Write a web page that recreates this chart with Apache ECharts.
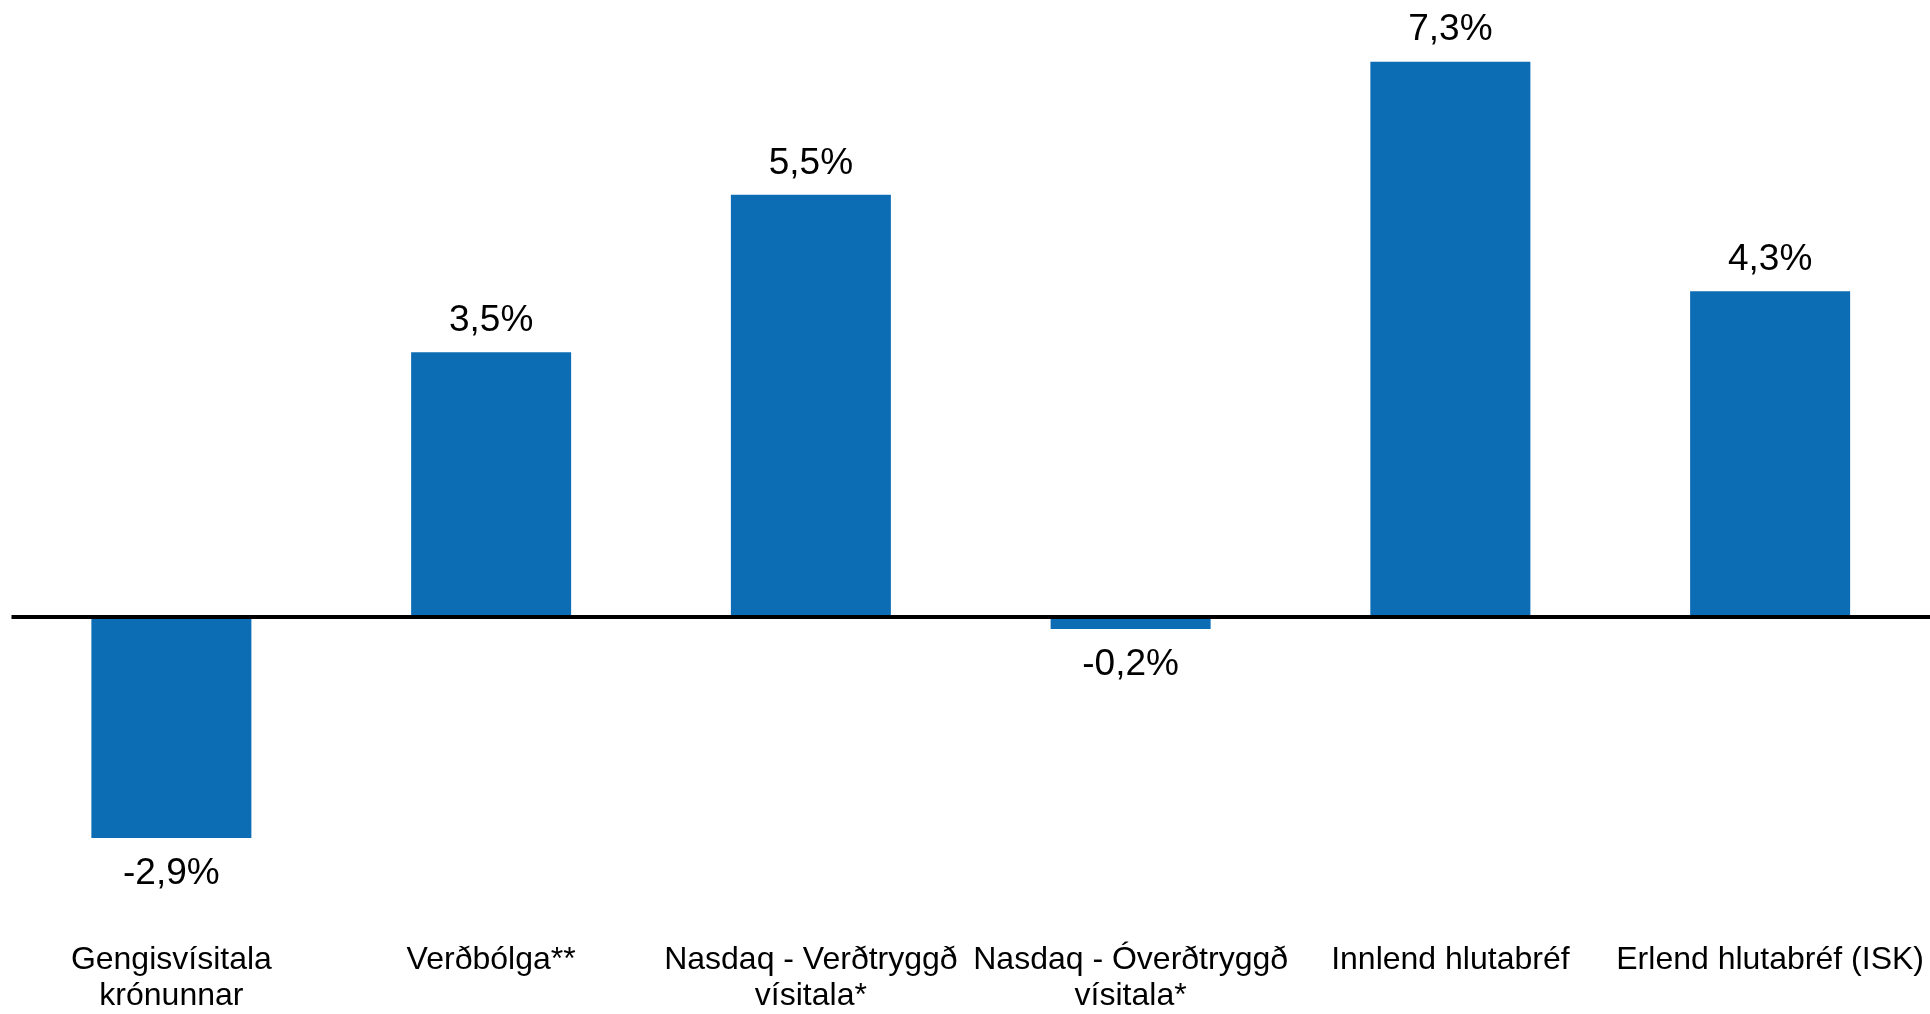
<!DOCTYPE html>
<html>
<head>
<meta charset="utf-8">
<script src="https://cdn.jsdelivr.net/npm/echarts@6/dist/echarts.min.js"></script>
<style>
html,body{margin:0;padding:0;background:#fff;}
#chart{width:1930px;height:1014px;}
</style>
</head>
<body>
<div id="chart"></div>
<script>
const categories = [
  "Gengisvísitala\nkrónunnar",
  "Verðbólga**",
  "Nasdaq - Verðtryggð\nvísitala*",
  "Nasdaq - Óverðtryggð\nvísitala*",
  "Innlend hlutabréf",
  "Erlend hlutabréf (ISK)"
];
// values (labels show them rounded to one decimal)
const values = [-2.91, 3.48, 5.55, -0.16, 7.3, 4.28];

const chart = echarts.init(document.getElementById('chart'), null, {renderer: 'canvas'});
chart.setOption({
  animation: false,
  backgroundColor: '#ffffff',
  textStyle: {fontFamily: 'Liberation Sans, Arial, sans-serif'},
  grid: {left: 11.5, top: 8.5, width: 1923, height: 918, containLabel: false},
  xAxis: {
    type: 'category',
    data: categories,
    position: 'bottom',
    axisLine: {show: false, onZero: false},
    axisTick: {show: false},
    axisLabel: {
      interval: 0,
      hideOverlap: false,
      margin: 21,
      color: '#000',
      fontSize: 32,
      lineHeight: 36,
      fontFamily: 'Liberation Sans, Arial, sans-serif'
    }
  },
  yAxis: {
    type: 'value',
    min: -4,
    max: 8,
    interval: 2,
    show: false,
    splitLine: {show: false}
  },
  series: [{
    type: 'bar',
    data: values.map(v => v < 0 ? {value: v, label: {position: 'bottom', distance: 17.5}} : v),
    barWidth: 160,
    itemStyle: {color: '#0c6cb4'},
    label: {
      show: true,
      position: 'top',
      distance: 13,
      color: '#000',
      fontSize: 37,
      fontFamily: 'Liberation Sans, Arial, sans-serif',
      formatter: p => p.value.toFixed(1).replace('.', ',') + '%'
    },
    markLine: {
      silent: true,
      symbol: 'none',
      label: {show: false},
      lineStyle: {type: 'solid', color: '#000', width: 4},
      data: [{yAxis: 0}]
    }
  }]
});
</script>
</body>
</html>
